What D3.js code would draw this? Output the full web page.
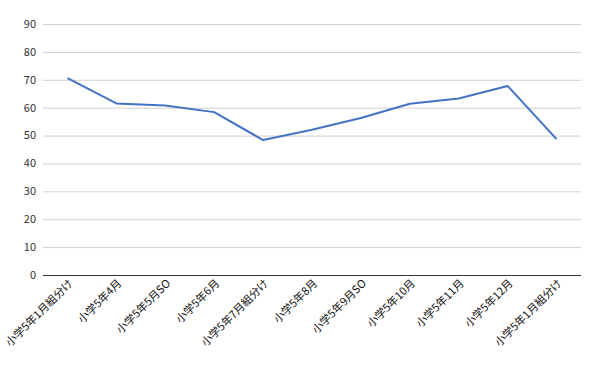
<!DOCTYPE html>
<html><head><meta charset="utf-8">
<script src="https://cdn.jsdelivr.net/npm/d3@7"></script>
<style>body{margin:0;background:#fff;} text{font-family:"Noto Sans CJK JP","Noto Sans",sans-serif;}</style>
</head><body>
<svg id="c" width="600" height="371"></svg>
<script>
const categories = ["小学5年1月組分け","小学5年4月","小学5年5月SO","小学5年6月","小学5年7月組分け","小学5年8月","小学5年9月SO","小学5年10月","小学5年11月","小学5年12月","小学5年1月組分け "];
const values = [70.6, 61.5, 60.8, 58.4, 48.4, 52.1, 56.3, 61.4, 63.3, 67.8, 48.7];
const yTicks = [0,10,20,30,40,50,60,70,80,90];

const svg = d3.select("#c");
const L = 43, R = 581, T = 24, B = 275;
const x = d3.scaleBand().domain(categories).range([L, R]);
const y = d3.scaleLinear().domain([0, 90]).range([B, T]);

svg.append("g").selectAll("line").data(yTicks.filter(d => d > 0)).join("line")
  .attr("x1", L).attr("x2", R).attr("y1", d => y(d) + 0.5).attr("y2", d => y(d) + 0.5)
  .attr("stroke", "#d0d0d0").attr("stroke-width", 1);

svg.append("g").selectAll("text").data(yTicks).join("text")
  .attr("x", 36).attr("y", d => y(d)).attr("dy", "0.35em")
  .attr("text-anchor", "end").attr("font-size", 11).attr("fill", "#333").text(d => d);

svg.append("line").attr("x1", L).attr("x2", R).attr("y1", B + 0.5).attr("y2", B + 0.5)
  .attr("stroke", "#333").attr("stroke-width", 1);

svg.append("g").selectAll("text").data(categories).join("text")
  .attr("transform", d => `translate(${x(d) + x.bandwidth() / 2 + 6},${B + 9}) rotate(-45)`)
  .attr("text-anchor", "end").attr("font-size", 11).attr("fill", "#111").text(d => d.trim());

const line = d3.line().x((d, i) => x(categories[i]) + x.bandwidth() / 2).y(d => y(d));
svg.append("path").datum(values).attr("d", line).attr("fill", "none")
  .attr("stroke", "#4472C4").attr("stroke-width", 2).attr("stroke-linejoin", "round");
</script>
</body></html>
